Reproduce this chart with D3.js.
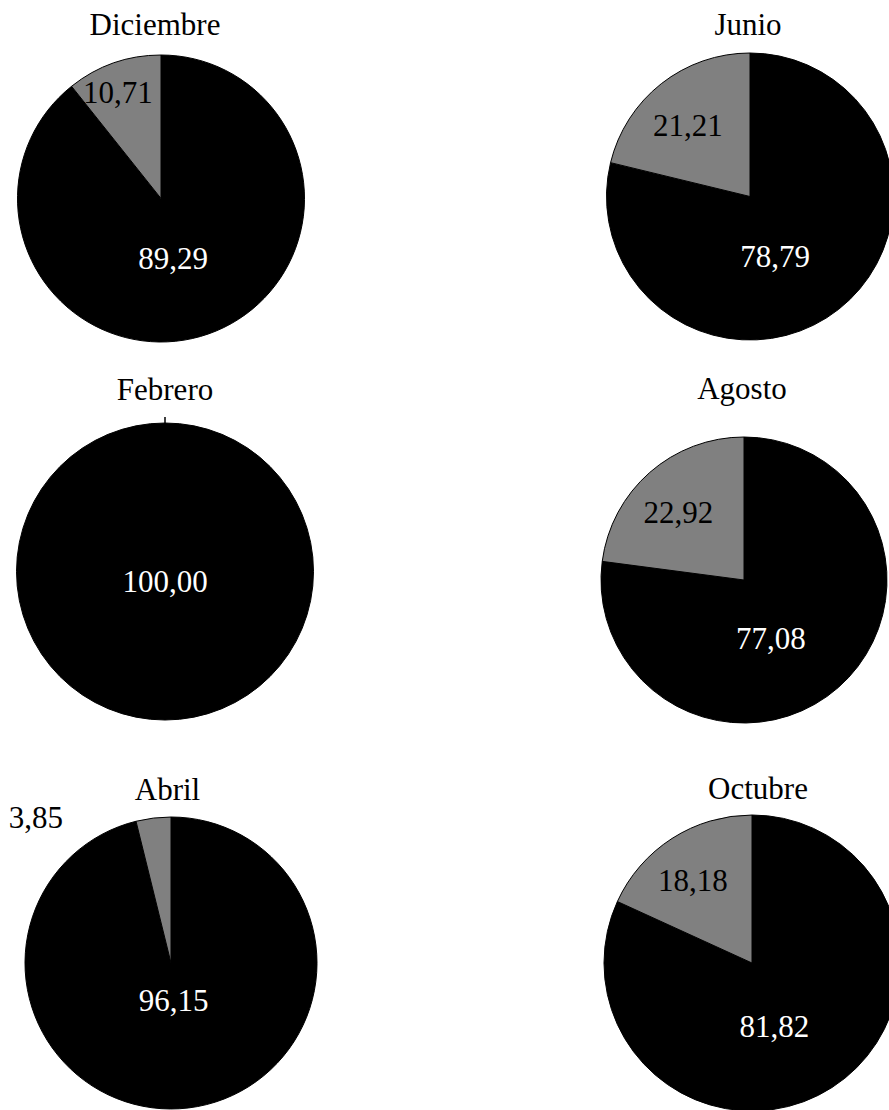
<!DOCTYPE html>
<html lang="es">
<head>
<meta charset="utf-8">
<title>Distribución mensual</title>
<script src="https://cdn.jsdelivr.net/npm/d3@7"></script>
<style>
  html, body { margin: 0; padding: 0; background: #fff; }
  svg { display: block; }
  text { font-family: "Liberation Serif", "Times New Roman", serif; font-size: 31px; }
</style>
</head>
<body>
<svg id="chart" width="889" height="1110"></svg>
<script>
// Months, one pie each
const months = ["Diciembre", "Junio", "Febrero", "Agosto", "Abril", "Octubre"];
// Share (%) of the main (black) slice per month
const mainShare = [89.29, 78.79, 100.00, 77.08, 96.15, 81.82];
// Share (%) of the secondary (grey) slice per month
const otherShare = [10.71, 21.21, 0.00, 22.92, 3.85, 18.18];

// Placement of each pie on the page: centre, radius and title position
const layout = [
  { cx: 161, cy: 198.5, r: 143.5, titleX: 155,   titleY: 35 },
  { cx: 750, cy: 196.5, r: 143.5, titleX: 748,   titleY: 35 },
  { cx: 165, cy: 571.5, r: 148.5, titleX: 165,   titleY: 400 },
  { cx: 744, cy: 580,   r: 143,   titleX: 742,   titleY: 399 },
  { cx: 171, cy: 963,   r: 146,   titleX: 167.5, titleY: 800 },
  { cx: 752, cy: 963,   r: 148,   titleX: 758,   titleY: 799 }
];

const sliceColor = ["#000000", "#808080"];
const labelColor = ["#ffffff", "#000000"];
const fmt = v => d3.format(".2f")(v).replace(".", ",");

const svg = d3.select("#chart");

const pie = d3.pie().sort(null).value(d => d.value).startAngle(0).endAngle(2 * Math.PI);

months.forEach((month, i) => {
  const L = layout[i];
  const slices = pie([
    { key: 0, value: mainShare[i] },
    { key: 1, value: otherShare[i] }
  ]);
  const arc = d3.arc().innerRadius(0).outerRadius(L.r);
  const g = svg.append("g").attr("transform", `translate(${L.cx},${L.cy})`);

  // Slices
  g.selectAll("path.slice")
    .data(slices.filter(d => d.value > 0))
    .join("path")
    .attr("class", "slice")
    .attr("d", arc)
    .attr("fill", d => sliceColor[d.data.key])
    .attr("stroke", "#000")
    .attr("stroke-width", 1);

  // Zero-value slices keep a short leader tick at their position on the rim
  slices.filter(d => d.value === 0).forEach(d => {
    const a = d.startAngle;
    g.append("line")
      .attr("x1", Math.sin(a) * L.r).attr("y1", -Math.cos(a) * L.r)
      .attr("x2", Math.sin(a) * (L.r + 6)).attr("y2", -Math.cos(a) * (L.r + 6))
      .attr("stroke", "#000").attr("stroke-width", 1.5);
  });

  // Value labels
  slices.filter(d => d.value > 0).forEach(d => {
    const p = (d.endAngle - d.startAngle) / (2 * Math.PI);
    let mid = (d.startAngle + d.endAngle) / 2;
    let dist, color = labelColor[d.data.key];
    if (p >= 0.999) {
      // full circle: label sits at the centre
      mid = Math.PI; dist = 10;
    } else if (d.data.key === 0) {
      // large slice: label pulled toward the bottom, closer in as the slice fills the pie
      mid = mid + (Math.PI - mid) * 0.4;
      dist = L.r * 0.45 * Math.min(1, Math.sqrt((1 - p) / 0.12));
    } else if (p < 0.05) {
      // thin slice: label outside, up and to the left
      mid = mid - 36 * Math.PI / 180;
      dist = L.r * 1.36;
      color = "#000";
    } else {
      // grey slice: label inside, pushed outward when the slice is narrow
      mid = mid - 0.05;
      dist = L.r * (0.66 + Math.max(0, 0.2 - p) * 1.5);
    }
    const x = Math.sin(mid) * dist;
    const y = -Math.cos(mid) * dist;
    g.append("text")
      .attr("x", x).attr("y", y)
      .attr("dy", "0.35em")
      .attr("text-anchor", "middle")
      .attr("fill", color)
      .text(fmt(d.value));
  });

  // Month title
  svg.append("text")
    .attr("x", L.titleX)
    .attr("y", L.titleY)
    .attr("text-anchor", "middle")
    .attr("fill", "#000")
    .text(month);
});
</script>
</body>
</html>
